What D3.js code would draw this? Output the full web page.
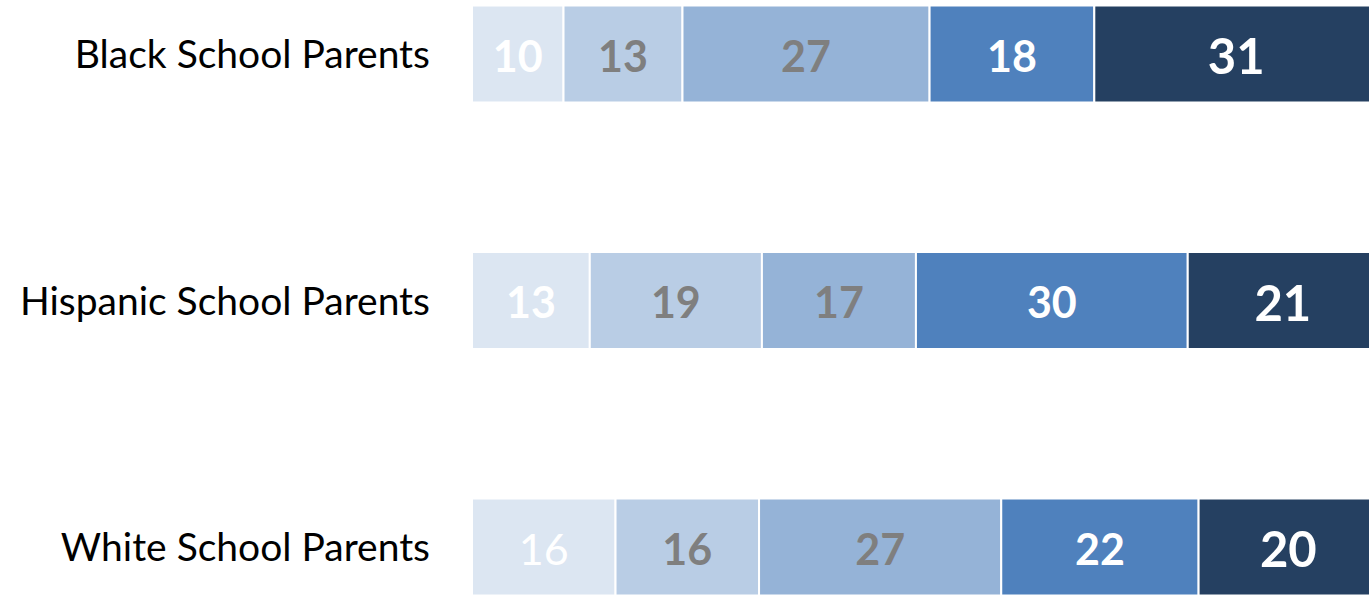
<!DOCTYPE html>
<html>
<head>
<meta charset="utf-8">
<script src="https://cdn.jsdelivr.net/npm/d3@7"></script>
<style>
  html, body { margin: 0; padding: 0; background: white; overflow: hidden; }
</style>
</head>
<body>
<div id="viz-container"></div>
<script>
// categories (rows), top to bottom
let groups = ["Black School Parents", "Hispanic School Parents", "White School Parents"];

// one array per stacked segment, left to right (percent)
let seg1 = [10, 13, 16];
let seg2 = [13, 19, 16];
let seg3 = [27, 17, 27];
let seg4 = [18, 30, 22];
let seg5 = [31, 21, 20];

let segColors = ["#dce6f2", "#b9cde5", "#95b3d7", "#4f81bd", "#254061"];
let labelColors = ["#ffffff", "#7f7f7f", "#7f7f7f", "#ffffff", "#ffffff"];
// first segment label is bold in the first two rows only
let firstBold = [true, true, false];

let width = 1369;
let height = 595;

let viz = d3.select("#viz-container")
                .append("svg")
                    .attr("width", width)
                    .attr("height", height)
                    .style("display", "block")
;

// 100% stacked: each row is scaled to its own total
let x = d3.scaleLinear()
            .domain([0, 1])
            .range([472, 1378])
;

let y = d3.scaleBand()
            .domain(groups)
            .range([5.5, 595.5])
            .paddingInner(0.6065)
            .paddingOuter(0)
;

// build rows for d3.stack
let keys = ["s1", "s2", "s3", "s4", "s5"];
let table = groups.map(function(g, i){
    return {group: g, s1: seg1[i], s2: seg2[i], s3: seg3[i], s4: seg4[i], s5: seg5[i], row: i};
});
let series = d3.stack().keys(keys).offset(d3.stackOffsetExpand)(table);

let layers = viz.selectAll(".layer").data(series).enter().append("g")
                    .attr("class", "layer")
                    .attr("fill", function(d, i){ return segColors[i]; })
;

layers.selectAll("rect").data(function(d){ return d; }).enter().append("rect")
        .attr("x", function(d){ return x(d[0]); })
        .attr("y", function(d){ return y(d.data.group); })
        .attr("width", function(d){ return x(d[1]) - x(d[0]); })
        .attr("height", y.bandwidth())
        .attr("stroke", "white")
        .attr("stroke-width", 2)
;

// value labels show the original percentages
series.forEach(function(s, si){
    let size = si == 4 ? 49 : 43;
    viz.selectAll(".lab" + si).data(s).enter().append("text")
        .attr("class", "lab" + si)
        .text(function(d){ return d.data[s.key]; })
        .attr("x", function(d){ return (x(d[0]) + x(d[1])) / 2; })
        .attr("y", function(d){ return y(d.data.group) + y.bandwidth() / 2 + 0.36 * size + 2.5; })
        .attr("text-anchor", "middle")
        .style("font-family", "Lato, sans-serif")
        .style("font-size", size + "px")
        .style("font-weight", function(d){
            if (si == 0 && !firstBold[d.data.row]) return "normal";
            return "bold";
        })
        .attr("fill", labelColors[si])
    ;
});

// category labels
viz.selectAll(".catlabel").data(groups).enter().append("text")
    .attr("class", "catlabel")
    .text(function(d){ return d; })
    .attr("x", 430)
    .attr("y", function(d){ return y(d) + y.bandwidth() / 2 + 0.36 * 39; })
    .attr("text-anchor", "end")
    .style("font-family", "Lato, sans-serif")
    .style("font-size", "39px")
    .attr("fill", "black")
;
</script>
</body>
</html>
